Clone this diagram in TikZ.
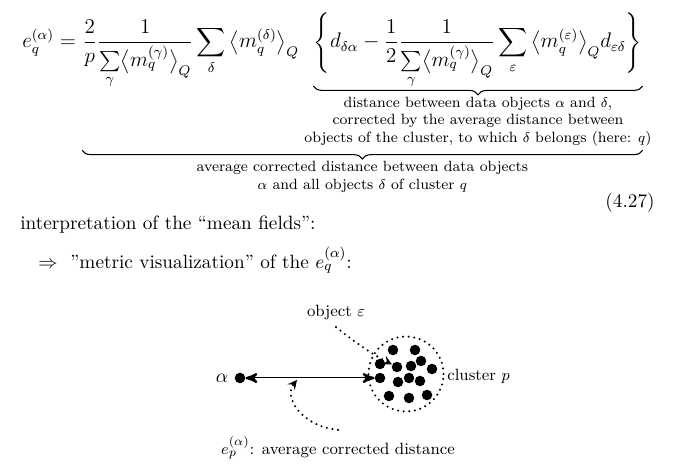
\documentclass[tikz,border=0pt,11pt]{standalone}
\usepackage{amsmath}
\usepackage{amssymb}
\usetikzlibrary{arrows,decorations.pathreplacing,positioning}

\tikzset{
  formula/.style={anchor=base west,inner sep=0pt,font=\fontsize{11.5}{14}\selectfont},
  underbr/.style={decorate,decoration={brace,mirror,amplitude=5pt},semithick},
  note/.style={font=\fontsize{8.45}{10}\selectfont,align=center,inner sep=1pt},
  lbl/.style={font=\fontsize{9.3}{11}\selectfont},
  blob/.style={circle,fill,inner sep=0pt,minimum size=6pt},
  dotline/.style={dash pattern=on 0pt off 3.2pt,line cap=round,line width=1.3pt},
  hint/.style={dotline,-stealth},
}

\begin{document}
\begin{tikzpicture}[x=0.02cm,y=-0.02cm]
  \useasboundingbox (0,0) rectangle (673,470);

  % the formula, cut in three parts for the braces
  \node[formula] (lhs) at (22,48)
    {$\displaystyle e_q^{(\alpha)} = {}$};
  \node[formula] (pre) at (lhs.base east)
    {$\displaystyle \frac{2}{p}\frac{1}{\sum\limits_\gamma \bigl\langle m_q^{(\gamma)}\bigr\rangle_Q}
      \sum_\delta \,\bigl\langle m_q^{(\delta)}\bigr\rangle_Q$};
  \node[formula] (curly) at ([xshift=8pt]pre.base east)
    {$\displaystyle \Biggl\{ d_{\delta\alpha} - \frac{1}{2}\frac{1}{\sum\limits_\gamma \bigl\langle m_q^{(\gamma)}\bigr\rangle_Q}
      \sum_\varepsilon \,\bigl\langle m_q^{(\varepsilon)}\bigr\rangle_Q d_{\varepsilon\delta} \Biggr\}$};

  \draw[underbr] (curly.west |- 0,86) -- (curly.east |- 0,86)
    node[note,midway,below=5pt] (inner) {distance between data objects $\alpha$ and $\delta$,\\
      corrected by the average distance between\\
      objects of the cluster, to which $\delta$ belongs (here: $q$)};
  \draw[underbr] ([yshift=-1pt]pre.west |- inner.south) -- ([yshift=-1pt]curly.east |- inner.south)
    node[note,midway,below=5pt] (outer) {average corrected distance between data objects\\
      $\alpha$ and all objects $\delta$ of cluster $q$};

  \node[anchor=base east,inner sep=0pt] (eqno) at (655,207) {(4.27)};

  \node[anchor=base west,inner sep=0pt] (interp) at (20,229) {interpretation of the ``mean fields'':};
  \node[anchor=base west,inner sep=0pt] (metric) at (38,268)
    {$\Rightarrow$\ \ ''metric visualization'' of the $e_q^{(\alpha)}$:};

  % the picture
  \node (alpha) at (222,378) {$\alpha$};
  \node[blob] (a) at (240,378) {};
  \draw[dotline] (406,374) circle [radius=0.75cm];
  \foreach \x/\y [count=\i] in {393/350,415/350,380/364,397/367,411/366,421/361,432/369,
      380/378,398/382,409/378,420/381,389/396,409/398,427/395}
    \node[blob] (d\i) at (\x,\y) {};
  \draw[stealth'-stealth',double,double distance=0.5pt,thin] (a) -- (d8);

  \node[lbl] (obj) at (336,313) {object $\varepsilon$};
  \draw[hint] (obj.south) .. controls (356,343) and (372,354) .. (d4);

  \node[lbl,anchor=west,inner sep=0pt] (clab) at (447,376) {cluster $p$};

  \node[lbl] (elab) at (338,448) {$e_p^{(\alpha)}$: average corrected distance};
  \coordinate (hit) at (297,380);
  \draw[hint] (elab.north) .. controls (300,426) and (284,396) .. (hit);
\end{tikzpicture}
\end{document}
